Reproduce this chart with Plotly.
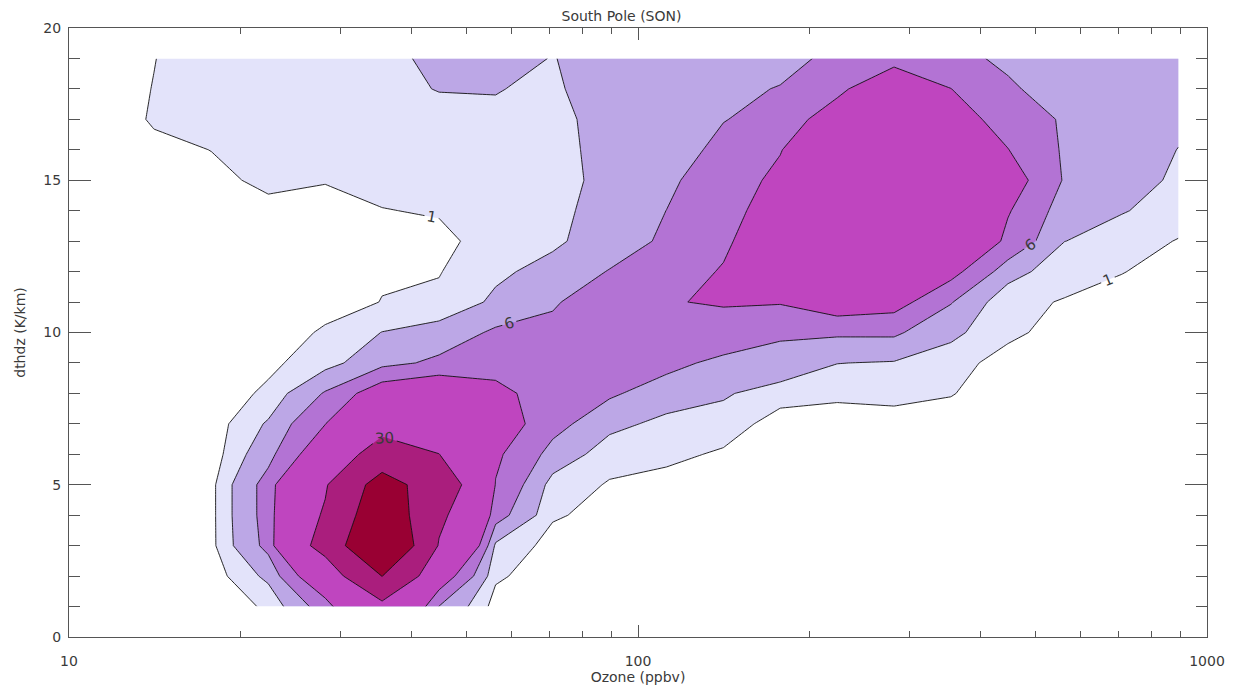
import plotly.graph_objects as go

# Ozone bin centres (ppbv), log-spaced, and dthdz bin centres (K/km)
ozone = [11.2, 14.1, 17.8, 22.4, 28.2, 35.5, 44.7, 56.2, 70.8, 89.1,
         112.2, 141.3, 177.8, 223.9, 281.8, 354.8, 446.7, 562.3, 707.9, 891.3]
dthdz = [1, 2, 3, 4, 5, 6, 7, 8, 9, 10, 11, 12, 13, 14, 15, 16, 17, 18, 19]

# Occurrence frequency, one row per dthdz bin (bottom to top)
row_01 = [0, 0, 0.16, 1.21, 7.84, 23.3, 5.9, 0.25, 0, 0, 0, 0, 0, 0, 0, 0, 0, 0, 0, 0]
row_02 = [0, 0, 0, 3.6, 15.6, 60.3, 13.4, 1.3, 0, 0, 0, 0, 0, 0, 0, 0, 0, 0, 0, 0]
row_03 = [0, 0, 0.5, 7.0, 38.1, 100, 28.6, 2.5, 0.33, 0, 0, 0, 0, 0, 0, 0, 0, 0, 0, 0]
row_04 = [0, 0, 0.5, 7.4, 32.2, 83.7, 34.2, 7.5, 1.2, 0.46, 0, 0, 0, 0, 0, 0, 0, 0, 0, 0]
row_05 = [0, 0, 0.5, 7.4, 28, 73, 43.5, 9.8, 2.0, 0.85, 0.3, 0, 0, 0, 0, 0, 0, 0, 0, 0]
row_06 = [0, 0, 0, 4.9, 14, 41.1, 30.2, 10.8, 4.8, 1.7, 1.5, 0.72, 0, 0, 0, 0, 0, 0, 0, 0]
row_07 = [0, 0, 0, 3.3, 9.9, 22, 20, 13, 7.23, 3.72, 2.34, 2.0, 0.15, 0.3, 0.3, 0.2, 0, 0, 0, 0]
row_08 = [0, 0, 0, 1.34, 6.3, 13, 14.9, 11.5, 7.5, 6.5, 4.33, 3.3, 1.8, 1.3, 1.5, 1.1, 0, 0, 0, 0]
row_09 = [0, 0, 0, 0.6, 2.03, 4.97, 6.72, 8, 8.5, 8.5, 7, 5.11, 5.0, 3.05, 2.8, 1.98, 0, 0, 0, 0]
row_10 = [0, 0, 0, 0.3, 1.175, 3.05, 3.98, 6.54, 6.7, 7.5, 8, 8.5, 6.4, 6.5, 6.55, 3.5, 1.58, 0, 0, 0]
row_11 = [0, 0, 0, 0.2, 0.5, 1.03, 1.4, 3.43, 5.7, 7.7, 9.82, 10.3, 10.3, 13, 11.87, 6.2, 1.2, 0.95, 0.5, 0.2]
row_12 = [0, 0, 0.1, 0.2, 0.3, 0.88, 0.9, 2.57, 3.76, 6.17, 8.16, 10.3, 13, 17, 18, 11.5, 4.2, 1.3, 1.05, 0.5]
row_13 = [0, 0, 0.1, 0.2, 0.3, 0.35, 0.4, 1.98, 2.6, 4.17, 6.61, 9.3, 13.35, 18, 20, 17.8, 8.88, 3.02, 2.27, 0.85]
row_14 = [0, 0.1, 0.3, 0.69, 0.35, 0.92, 1.2, 1.8, 2.4, 3.9, 6.02, 9, 11.44, 20, 25, 20, 10.36, 4.3, 3.1, 2.39]
row_15 = [0, 0.3, 0.7, 1.26, 1.1, 1.7, 1.9, 2.1, 2.4, 3.49, 5.33, 8, 10.94, 20, 25, 20, 12.44, 5.66, 4.5, 2.42]
row_16 = [0, 0.647, 1.02, 1.5, 1.7, 1.8, 2.0, 2.2, 2.5, 3.52, 4.55, 6.8, 9.8, 15, 18, 15, 10.1, 5.54, 4.0, 2.96]
row_17 = [0, 1.166, 1.8, 2.0, 2.1, 2.2, 2.5, 2.6, 2.7, 3.4, 4.5, 5.9, 7.0, 13.1, 17, 12, 8.36, 5.55, 4.5, 3.4]
row_18 = [0, 1.056, 2.2, 2.4, 2.5, 2.6, 3.06, 3.1, 2.54, 4.63, 5.0, 5.3, 6.15, 8.7, 15.1, 10.05, 6.5, 4.42, 4.3, 4.1]
row_19 = [0, 0.95, 2.1, 2.3, 2.4, 2.5, 3.44, 3.5, 2.95, 3.6, 4.0, 4.5, 5.0, 6.77, 8, 7, 5.36, 5.0, 4.5, 4.2]

freq = [row_01, row_02, row_03, row_04, row_05, row_06, row_07, row_08, row_09, row_10,
        row_11, row_12, row_13, row_14, row_15, row_16, row_17, row_18, row_19]

# Contour levels, fill colours above each level, and which lines carry labels
levels = [1, 3, 6, 10, 30, 60]
fill_colors = ["#E3E3FA", "#BCA7E6", "#B373D4", "#BF45BF", "#AA1E7D", "#990033"]
labelled = [1, 6, 30]

x_major = [10, 100, 1000]
x_minor = [20, 30, 40, 50, 60, 70, 80, 90, 200, 300, 400, 500, 600, 700, 800, 900]
y_major = [0, 5, 10, 15, 20]
y_minor = [1, 2, 3, 4, 6, 7, 8, 9, 11, 12, 13, 14, 16, 17, 18, 19]

AXIS = "#555555"
TEXT = "#3a3a3a"
FONT = "DejaVu Sans"

fig = go.Figure()

# filled bands: a constraint contour shades the part where the constraint fails,
# so "< level" paints everything at or above that level
for lev, col in zip(levels, fill_colors):
    fig.add_trace(go.Contour(
        x=ozone, y=dthdz, z=freq,
        contours=dict(type="constraint", operation="<", value=lev),
        fillcolor=col,
        line=dict(width=0, color=col, smoothing=0),
        showscale=False, hoverinfo="skip",
    ))

# contour lines on top, labelled on every other level
for lev in levels:
    fig.add_trace(go.Contour(
        x=ozone, y=dthdz, z=freq,
        autocontour=False,
        contours=dict(start=lev, end=lev, size=1, coloring="none",
                      showlabels=lev in labelled,
                      labelfont=dict(family=FONT, size=15, color=TEXT)),
        line=dict(color="#111111", width=0.9, smoothing=0),
        showscale=False, hoverinfo="skip",
    ))

fig.update_layout(
    width=1239, height=685,
    margin=dict(l=69, r=32, t=28, b=48),
    paper_bgcolor="white", plot_bgcolor="white",
    font=dict(family=FONT, size=14, color=TEXT),
    showlegend=False,
    title=dict(text="South Pole (SON)", x=0.4855, xref="paper", xanchor="center",
               y=1 - 16 / 685, yref="container", yanchor="middle",
               font=dict(family=FONT, size=14, color=TEXT)),
)

fig.update_xaxes(
    type="log", range=[1, 3], automargin=False,
    tickvals=x_major, ticktext=[str(v) for v in x_major],
    ticks="inside", ticklen=12, tickwidth=1, tickcolor=AXIS,
    ticklabelstandoff=11,
    minor=dict(tickvals=x_minor, ticks="inside", ticklen=6, tickwidth=1, tickcolor=AXIS),
    showline=True, linecolor=AXIS, linewidth=1, mirror="ticks",
    showgrid=False, zeroline=False,
    title=dict(text="Ozone (ppbv)", font=dict(family=FONT, size=14, color=TEXT), standoff=1),
)
fig.update_yaxes(
    range=[0, 20], automargin=False,
    tickvals=y_major,
    ticks="inside", ticklen=22, tickwidth=1, tickcolor=AXIS,
    ticklabelstandoff=4,
    minor=dict(tickvals=y_minor, ticks="inside", ticklen=11, tickwidth=1, tickcolor=AXIS),
    showline=True, linecolor=AXIS, linewidth=1, mirror="ticks",
    showgrid=False, zeroline=False,
    title=dict(text="dthdz (K/km)", font=dict(family=FONT, size=14, color=TEXT), standoff=14),
)

fig.write_html("out.html")
